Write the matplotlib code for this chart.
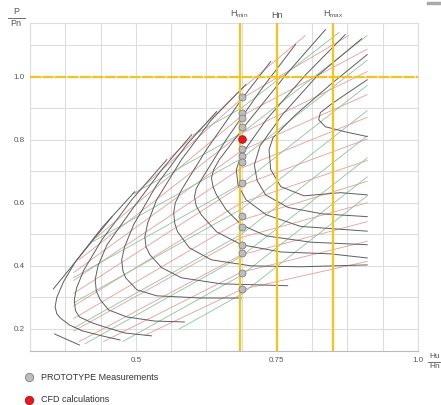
import matplotlib
matplotlib.use('Agg')
import matplotlib.pyplot as plt

plt.rcParams['font.family'] = ['Liberation Sans', 'DejaVu Sans']
plt.rcParams['mathtext.default'] = 'regular'

# efficiency contours (dark grey)
contour_x = [
    [0.498, 0.440, 0.393, 0.372, 0.360, 0.357, 0.360, 0.366, 0.382, 0.405, 0.440, 0.472],
    [0.555, 0.493, 0.440, 0.408, 0.395, 0.391, 0.393, 0.400, 0.423, 0.445, 0.481, 0.528],
    [0.599, 0.546, 0.493, 0.449, 0.433, 0.428, 0.430, 0.437, 0.452, 0.484, 0.533, 0.586],
    [0.643, 0.590, 0.537, 0.496, 0.480, 0.475, 0.477, 0.482, 0.502, 0.537, 0.616, 0.687],
    [0.695, 0.634, 0.581, 0.537, 0.521, 0.516, 0.518, 0.525, 0.546, 0.581, 0.651, 0.769],
    [0.739, 0.687, 0.625, 0.581, 0.570, 0.567, 0.569, 0.574, 0.595, 0.634, 0.704, 0.792, 0.910],
    [0.783, 0.722, 0.660, 0.616, 0.607, 0.604, 0.607, 0.616, 0.643, 0.687, 0.757, 0.845, 0.910],
    [0.836, 0.766, 0.695, 0.648, 0.638, 0.634, 0.637, 0.643, 0.660, 0.687, 0.731, 0.810, 0.910],
    [0.871, 0.801, 0.731, 0.687, 0.678, 0.681, 0.695, 0.731, 0.792, 0.910],
    [0.900, 0.820, 0.760, 0.720, 0.710, 0.715, 0.730, 0.770, 0.830, 0.910],
    [0.910, 0.845, 0.783, 0.743, 0.736, 0.739, 0.757, 0.798, 0.863, 0.910],
    [0.910, 0.871, 0.845, 0.827, 0.824, 0.836, 0.871, 0.910],
    [0.354, 0.458],
    [0.356, 0.400],
]
contour_y = [
    [0.635, 0.521, 0.413, 0.350, 0.300, 0.270, 0.248, 0.235, 0.213, 0.194, 0.178, 0.165],
    [0.737, 0.610, 0.483, 0.387, 0.330, 0.292, 0.258, 0.238, 0.219, 0.206, 0.187, 0.178],
    [0.816, 0.705, 0.578, 0.467, 0.400, 0.356, 0.320, 0.292, 0.260, 0.238, 0.225, 0.222],
    [0.889, 0.784, 0.657, 0.530, 0.460, 0.419, 0.385, 0.362, 0.324, 0.305, 0.298, 0.298],
    [0.975, 0.863, 0.737, 0.610, 0.535, 0.492, 0.460, 0.435, 0.394, 0.362, 0.343, 0.337],
    [1.048, 0.927, 0.768, 0.641, 0.600, 0.568, 0.535, 0.508, 0.457, 0.419, 0.400, 0.397, 0.403],
    [1.102, 0.959, 0.800, 0.673, 0.645, 0.619, 0.590, 0.562, 0.508, 0.467, 0.444, 0.438, 0.425],
    [1.149, 1.006, 0.848, 0.737, 0.705, 0.679, 0.650, 0.625, 0.578, 0.530, 0.495, 0.475, 0.467],
    [1.133, 1.006, 0.863, 0.752, 0.705, 0.657, 0.610, 0.562, 0.525, 0.510],
    [1.120, 1.000, 0.880, 0.780, 0.720, 0.670, 0.625, 0.585, 0.565, 0.556],
    [1.070, 0.975, 0.879, 0.806, 0.768, 0.705, 0.651, 0.622, 0.632, 0.625],
    [0.990, 0.943, 0.911, 0.886, 0.863, 0.841, 0.825, 0.810],
    [0.327, 0.556],
    [0.184, 0.149],
]

# pink lines (start, at Hmin, end)
pink_x = [
    [0.560, 0.687, 0.800],
    [0.500, 0.687, 0.877],
    [0.430, 0.687, 0.910],
    [0.400, 0.687, 0.910],
    [0.390, 0.687, 0.910],
    [0.390, 0.687, 0.910],
    [0.390, 0.687, 0.910],
    [0.390, 0.687, 0.910],
    [0.390, 0.687, 0.910],
    [0.390, 0.687, 0.910],
    [0.400, 0.687, 0.910],
    [0.443, 0.687, 0.910],
    [0.516, 0.687, 0.910],
]
pink_y = [
    [0.740, 0.960, 1.130],
    [0.630, 0.930, 1.130],
    [0.490, 0.875, 1.087],
    [0.420, 0.820, 1.016],
    [0.379, 0.765, 0.943],
    [0.354, 0.710, 0.871],
    [0.313, 0.655, 0.802],
    [0.273, 0.600, 0.734],
    [0.233, 0.545, 0.668],
    [0.193, 0.490, 0.600],
    [0.160, 0.435, 0.540],
    [0.160, 0.380, 0.478],
    [0.180, 0.325, 0.414],
]

# green lines (start, at Hmin, end)
green_x = [
    [0.602, 0.687, 0.860],
    [0.495, 0.687, 0.910],
    [0.424, 0.687, 0.910],
    [0.390, 0.687, 0.910],
    [0.390, 0.687, 0.910],
    [0.390, 0.687, 0.910],
    [0.410, 0.687, 0.910],
    [0.477, 0.687, 0.910],
    [0.577, 0.687, 0.910],
]
green_y = [
    [0.815, 0.900, 1.140],
    [0.628, 0.820, 1.130],
    [0.477, 0.740, 1.052],
    [0.363, 0.660, 0.972],
    [0.283, 0.580, 0.892],
    [0.203, 0.500, 0.812],
    [0.153, 0.430, 0.742],
    [0.160, 0.370, 0.682],
    [0.200, 0.310, 0.622],
]

# operating limits
h_min, h_n, h_max = 0.684, 0.75, 0.85
p_n = 1.0

# measurements
proto_x = 0.688
proto_y = [0.934, 0.886, 0.870, 0.841, 0.771, 0.749, 0.730, 0.663,
           0.559, 0.524, 0.467, 0.441, 0.378, 0.327]
cfd_x = 0.688
cfd_y = [0.803]

x_grid = [0.3125 + 0.0625 * i for i in range(12)]
y_grid = [0.2, 0.3, 0.4, 0.5, 0.6, 0.7, 0.8, 0.9, 1.0, 1.1]
x_labels = {0.5: '0.5', 0.75: '0.75', 1.0: '1.0'}
y_labels = {0.2: '0.2', 0.4: '0.4', 0.6: '0.6', 0.8: '0.8', 1.0: '1.0'}

yellow = '#f6c21c'
grey_txt = '#555555'

fig = plt.figure(figsize=(4.41, 4.05), dpi=100)
ax = fig.add_axes([30 / 441, 1 - 351 / 405, 388 / 441, 328 / 405])
ax.set_xlim(0.3125, 1.0)
ax.set_ylim(0.13, 1.17)

ax.set_xticks(x_grid)
ax.set_xticklabels([x_labels.get(round(v, 4), '') for v in x_grid])
ax.set_yticks(y_grid)
ax.set_yticklabels([y_labels.get(round(v, 2), '') for v in y_grid])
ax.tick_params(length=0, labelsize=5.8, colors=grey_txt, pad=4)
ax.grid(color='#dddddd', lw=0.8, zorder=0)
ax.set_axisbelow(True)
for s in ['top', 'right', 'left']:
    ax.spines[s].set_color('#dddddd')
ax.spines['bottom'].set_color('#bbbbbb')

for xs, ys in zip(pink_x, pink_y):
    ax.plot(xs, ys, color='#e79c9c', lw=0.6, zorder=2)
for xs, ys in zip(green_x, green_y):
    ax.plot(xs, ys, color='#8dc3a0', lw=0.6, zorder=2)
for xs, ys in zip(contour_x, contour_y):
    ax.plot(xs, ys, color='#5e5e5e', lw=0.7, zorder=3, solid_joinstyle='round')

for xv in [h_min, h_n, h_max]:
    ax.axvline(xv, color=yellow, lw=1.6, zorder=4)
ax.axhline(p_n, color=yellow, lw=1.6, dashes=(5, 0.6), zorder=4)

ax.plot([proto_x] * len(proto_y), proto_y, 'o', ms=5, mfc='#bdbdbd',
        mec='#808080', mew=0.6, zorder=5)
ax.plot([cfd_x] * len(cfd_y), cfd_y, 'o', ms=5.5, mfc='#e8191c',
        mec='#b01010', mew=0.6, zorder=6)

# labels over the vertical lines
for xv, name in [(h_min, 'H$_{min}$'), (h_n, 'Hn'), (h_max, 'H$_{max}$')]:
    ax.text(xv, 1.18, name, ha='center', va='bottom', fontsize=6.5,
            color=grey_txt, clip_on=False)

# axis names as fractions
fig.text(16 / 441, 1 - 12 / 405, 'P', ha='center', va='center', fontsize=6.5, color=grey_txt)
fig.add_artist(plt.Line2D([8 / 441, 25 / 441], [1 - 17.5 / 405] * 2, color=grey_txt, lw=0.6))
fig.text(16 / 441, 1 - 23 / 405, 'Pn', ha='center', va='center', fontsize=6.5, color=grey_txt)
fig.text(429 / 441, 1 - 357 / 405, 'Hu', ha='left', va='center', fontsize=6, color=grey_txt)
fig.add_artist(plt.Line2D([428 / 441, 440 / 441], [1 - 362 / 405] * 2, color=grey_txt, lw=0.6))
fig.text(429 / 441, 1 - 367 / 405, 'Hn', ha='left', va='center', fontsize=6, color=grey_txt)

# small grey mark in the top-right corner of the picture
fig.add_artist(plt.Line2D([428 / 441, 441 / 441], [1 - 3 / 405] * 2, color='#aaaaaa', lw=2.5))

# legend
fig.add_artist(plt.Line2D([29 / 441], [1 - 377 / 405], marker='o', ms=6, mfc='#bdbdbd', mec='#808080', mew=0.6))
fig.text(41 / 441, 1 - 377 / 405, 'PROTOTYPE Measurements', va='center', fontsize=6.5, color='#333333')
fig.add_artist(plt.Line2D([29 / 441], [1 - 400 / 405], marker='o', ms=6, mfc='#e8191c', mec='#b01010', mew=0.6))
fig.text(41 / 441, 1 - 400 / 405, 'CFD calculations', va='center', fontsize=6.5, color='#333333')

fig.savefig('out.png', dpi=100)
